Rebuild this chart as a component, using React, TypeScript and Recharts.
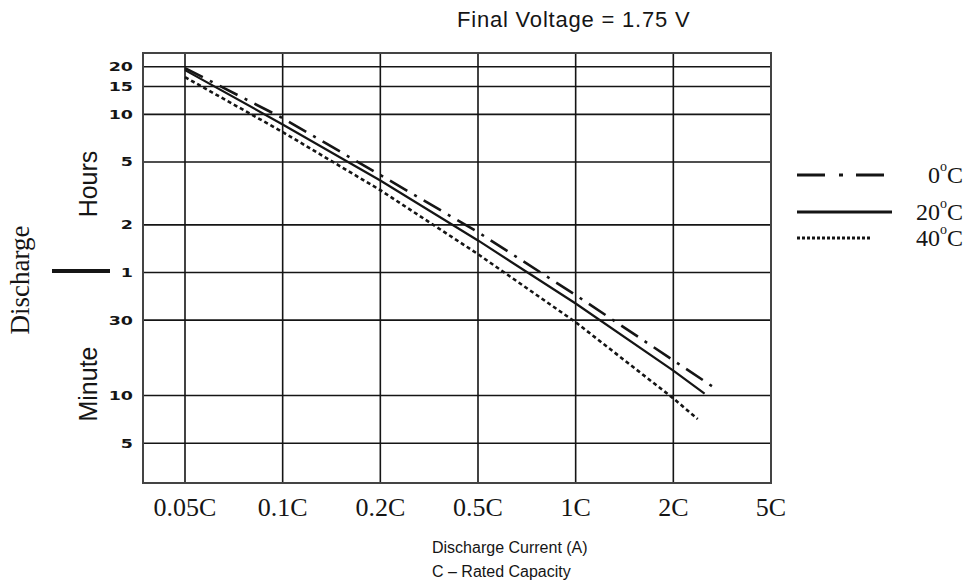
import { CartesianGrid, Line, LineChart, ReferenceArea, XAxis, YAxis } from 'recharts';

// evenly spaced current axis, one slot per label
const currentLabels = ['0.05C', '0.1C', '0.2C', '0.5C', '1C', '2C', '5C'];
const currentSlots = [0, 1, 2, 3, 4, 5, 6];

// discharge time in minutes, labelled in hours above 1 h
const timeTicks = [5, 10, 30, 60, 120, 300, 600, 900, 1200];
const timeLabels = ['5', '10', '30', '1', '2', '5', '10', '15', '20'];

const slots0C = [0, 1, 2, 3, 4, 5, 5.43];
const minutes0C = [1177, 568, 248, 108, 43.2, 16.7, 11.1];
const slots20C = [0, 1, 2, 3, 4, 5, 5.32];
const minutes20C = [1143, 518, 229, 95.7, 38.2, 14.4, 10.3];
const slots40C = [0, 1, 2, 3, 4, 5, 5.25];
const minutes40C = [1032, 464, 199, 78.4, 29.1, 9.6, 7.1];

const xDomain: [number, number] = [-0.43, 6];
const yDomain: [number, number] = [2.8, 1466];

const toPoints = (slots: number[], minutes: number[]) =>
  slots.map((slot, i) => ({ slot, minutes: minutes[i] }));

const series = [
  { temp: '0', data: toPoints(slots0C, minutes0C), dash: '20 8 3 8', legendDash: '28 14 4 13', legendLen: 89, width: 2.6 },
  { temp: '20', data: toPoints(slots20C, minutes20C), dash: undefined, legendDash: undefined, legendLen: 95, width: 2.2 },
  { temp: '40', data: toPoints(slots40C, minutes40C), dash: '4 3', legendDash: '3 2', legendLen: 73, width: 2.6 },
];

const ink = '#151515';
const serif = '"Liberation Serif", "Times New Roman", serif';
const sans = '"Liberation Sans", Arial, sans-serif';

function TimeTick({ x, y, payload }: any) {
  const idx = timeTicks.indexOf(payload.value);
  return (
    <g transform={`translate(${x},${y})`}>
      <text
        textAnchor="end"
        dy="0.36em"
        transform="scale(1.4,1)"
        fontFamily='"DejaVu Sans", sans-serif'
        fontWeight={700}
        fontSize={12.5}
        fill={ink}
      >
        {idx >= 0 ? timeLabels[idx] : ''}
      </text>
    </g>
  );
}

export default function App() {
  return (
    <div style={{ position: 'absolute', left: 0, top: 0, width: 976, height: 584, background: '#fff' }}>
      <LineChart width={976} height={584} margin={{ top: 53, right: 205, bottom: 41, left: 103 }}>
        <CartesianGrid stroke={ink} strokeWidth={1.6} />
        <XAxis
          type="number"
          dataKey="slot"
          domain={xDomain}
          ticks={currentSlots}
          interval={0}
          tickFormatter={(v) => currentLabels[Math.round(v)]}
          allowDataOverflow
          height={60}
          tickLine={false}
          axisLine={false}
          tickSize={0}
          tickMargin={15}
          tick={{ fontFamily: serif, fontSize: 26, fill: ink }}
        />
        <YAxis
          type="number"
          scale="log"
          domain={yDomain}
          ticks={timeTicks}
          interval={0}
          allowDataOverflow
          width={40}
          tickLine={false}
          axisLine={false}
          tickSize={0}
          tickMargin={10}
          tick={<TimeTick />}
        />
        <ReferenceArea
          x1={xDomain[0]}
          x2={xDomain[1]}
          y1={yDomain[0]}
          y2={yDomain[1]}
          fill="none"
          stroke="#444"
          strokeWidth={2}
        />
        {series.map((s) => (
          <Line
            key={s.temp}
            data={s.data}
            dataKey="minutes"
            name={`${s.temp}°C`}
            stroke={ink}
            strokeWidth={s.width}
            strokeDasharray={s.dash}
            dot={false}
            isAnimationActive={false}
          />
        ))}
      </LineChart>

      <svg width={976} height={584} style={{ position: 'absolute', left: 0, top: 0, pointerEvents: 'none' }}>
        <text x={457} y={27} fontFamily={sans} fontSize={22} letterSpacing={0.8} fill={ink}>
          Final Voltage = 1.75 V
        </text>
        <text x={432} y={553} fontFamily={sans} fontSize={16} fill={ink}>
          Discharge Current (A)
        </text>
        <text x={432} y={577} fontFamily={sans} fontSize={16} fill={ink}>
          C – Rated Capacity
        </text>
        <text transform="translate(29,280) rotate(-90)" textAnchor="middle" fontFamily={serif} fontSize={27} fill={ink}>
          Discharge
        </text>
        <text transform="translate(97,184) rotate(-90)" textAnchor="middle" fontFamily={sans} fontSize={25} fill={ink}>
          Hours
        </text>
        <text transform="translate(97,384) rotate(-90)" textAnchor="middle" fontFamily={sans} fontSize={25} fill={ink}>
          Minute
        </text>
        <line x1={52} y1={271} x2={110} y2={271} stroke={ink} strokeWidth={4} />

        {series.map((s, i) => {
          const y = [175, 212, 238][i];
          return (
            <g key={s.temp}>
              <line
                x1={797}
                y1={y}
                x2={797 + s.legendLen}
                y2={y}
                stroke={ink}
                strokeWidth={3}
                strokeDasharray={s.legendDash}
              />
              <text x={963} y={y + 8} textAnchor="end" fontFamily={serif} fontSize={24} fill={ink}>
                {s.temp}
                <tspan fontSize={14} dy={-12}>o</tspan>
                <tspan dy={12}>C</tspan>
              </text>
            </g>
          );
        })}
      </svg>
    </div>
  );
}
